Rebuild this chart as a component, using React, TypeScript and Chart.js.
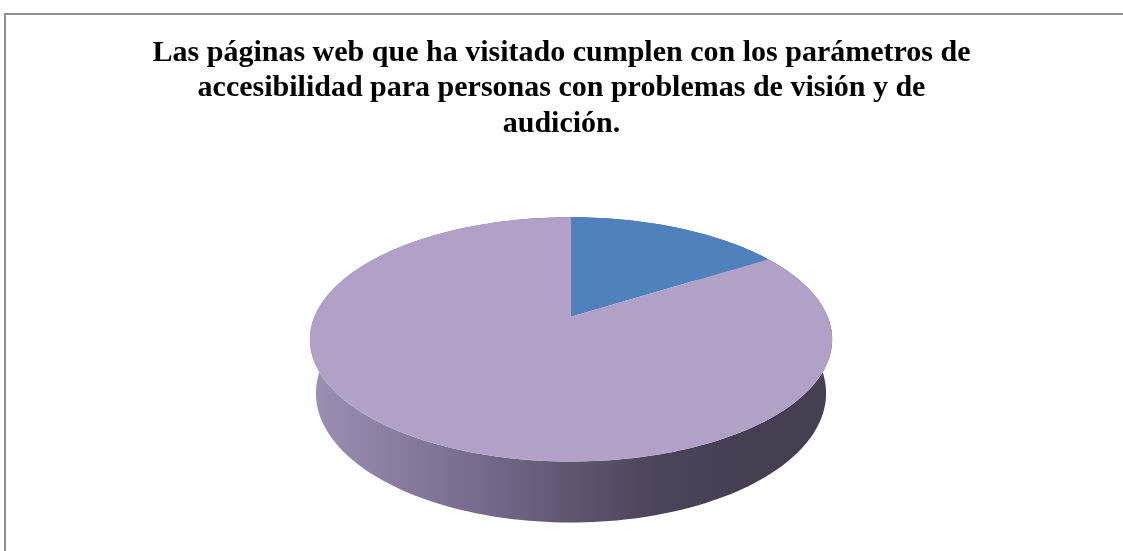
import React, { useEffect, useRef } from "react";
import { Chart, registerables } from "chart.js";

Chart.register(...registerables);

const categories = ["Sí", "No"];
const values = [16, 84];
const topColors = ["#4F81BD", "#B1A0C7"];
const sideStops = [
  ["#3f6796", "#2f4d70"],
  ["#9e90b4", "#8a7c9f", "#76698a", "#5f5571", "#4c4459", "#453e51", "#463f52"],
];
const titleLines = [
  "Las páginas web que ha visitado cumplen con los parámetros de",
  "accesibilidad para personas con problemas de visión y de",
  "audición.",
];

const pie3d = {
  id: "pie3d",
  beforeDraw(chart: any) {
    const ctx = chart.ctx;
    ctx.save();
    ctx.strokeStyle = "#8f8f8f";
    ctx.lineWidth = 2;
    ctx.strokeRect(5, 14, 1300, 700);
    ctx.restore();
  },
  beforeDatasetsDraw(chart: any) {
    const meta = chart.getDatasetMeta(0);
    const arcs = meta.data;
    if (!arcs.length) return false;
    const ctx = chart.ctx;
    const a0: any = arcs[0];
    const cx = a0.x + 9.5;
    const cy = a0.y;
    const R = a0.outerRadius;
    const A = R * 1.4633;
    const B = R * 0.6727;
    const C = R * 1.2994;
    const k = 0.186;
    const m = 0.0964;
    const h = 0.2385;
    const proj = (phi: number, z: number) => {
      const u = Math.sin(phi);
      const v = Math.cos(phi);
      const w = 1 + k * v - m * z;
      return [cx + (A * u) / w, cy - (B * v + C * z) / w];
    };
    const N = 240;
    ctx.save();
    // side walls
    arcs.forEach((arc: any, i: number) => {
      const s = arc.startAngle + Math.PI / 2;
      const e = arc.endAngle + Math.PI / 2;
      const steps = Math.max(2, Math.ceil(((e - s) / (2 * Math.PI)) * N));
      const grad = ctx.createLinearGradient(cx - A * 1.02, 0, cx + A * 1.02, 0);
      const stops = sideStops[i % sideStops.length];
      stops.forEach((c, j) => grad.addColorStop(j / (stops.length - 1), c));
      ctx.beginPath();
      for (let j = 0; j <= steps; j++) {
        const p = proj(s + ((e - s) * j) / steps, 0);
        if (j === 0) ctx.moveTo(p[0], p[1]);
        else ctx.lineTo(p[0], p[1]);
      }
      for (let j = steps; j >= 0; j--) {
        const p = proj(s + ((e - s) * j) / steps, -h);
        ctx.lineTo(p[0], p[1]);
      }
      ctx.closePath();
      ctx.fillStyle = grad;
      ctx.fill();
    });
    // top faces
    arcs.forEach((arc: any) => {
      const s = arc.startAngle + Math.PI / 2;
      const e = arc.endAngle + Math.PI / 2;
      const steps = Math.max(2, Math.ceil(((e - s) / (2 * Math.PI)) * N));
      ctx.beginPath();
      ctx.moveTo(cx, cy);
      for (let j = 0; j <= steps; j++) {
        const p = proj(s + ((e - s) * j) / steps, 0);
        ctx.lineTo(p[0], p[1]);
      }
      ctx.closePath();
      ctx.fillStyle = arc.options.backgroundColor;
      ctx.fill();
    });
    ctx.restore();
    return false;
  },
};

export default function App() {
  const ref = useRef<HTMLCanvasElement>(null);
  useEffect(() => {
    if (!ref.current) return;
    const chart = new Chart(ref.current, {
      type: "pie",
      data: {
        labels: categories,
        datasets: [
          {
            data: values,
            backgroundColor: topColors,
            borderWidth: 0,
          },
        ],
      },
      options: {
        responsive: false,
        animation: false,
        events: [],
        layout: { padding: { top: 36, bottom: 59, left: 0, right: 0 } },
        plugins: {
          legend: { display: false },
          tooltip: { enabled: false },
          title: {
            display: true,
            text: titleLines,
            color: "#000000",
            font: { family: "'Liberation Serif', 'Times New Roman', serif", size: 30, weight: "bold", lineHeight: 1.17 },
            padding: { top: 0, bottom: 0 },
          },
        },
      },
      plugins: [pie3d],
    });
    return () => chart.destroy();
  }, []);
  return (
    <div style={{ position: "fixed", left: 0, top: 0, width: 1123, height: 551, background: "#ffffff" }}>
      <canvas ref={ref} width={1123} height={551} style={{ width: 1123, height: 551, display: "block" }} />
    </div>
  );
}
